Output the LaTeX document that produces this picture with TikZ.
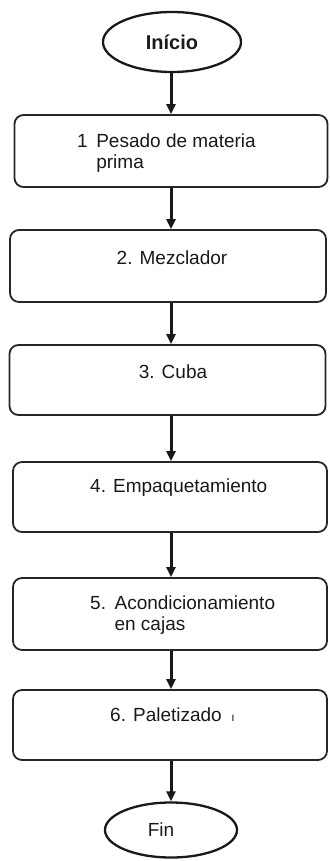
\documentclass[tikz,border=0pt]{standalone}
\usepackage{fontspec}
\setmainfont{Liberation Sans}
\usetikzlibrary{shapes.geometric,arrows.meta}
\begin{document}
\begin{tikzpicture}[x=1pt,y=-1pt,
  box/.style={draw=black!85, line width=1.8pt, rounded corners=9pt, inner sep=0pt},
  oval/.style={draw=black!90, ellipse, line width=2.3pt, inner sep=0pt},
  txt/.style={font=\fontsize{19}{21}\selectfont, inner sep=0pt, align=left, text=black!90},
  arr/.style={line width=3pt, black!90, -{Triangle[width=9pt,length=10pt]}}]
\useasboundingbox (0,0) rectangle (329,861);
\coordinate (axis) at (171,0);
\node[oval, minimum width=138pt, minimum height=60pt] (ini) at (172,42) {};
\node[txt, font=\fontsize{20}{22}\selectfont\bfseries] (tini) at (172,42) {Início};
\node[box, minimum width=313pt, minimum height=72pt] (b1) at (171,151) {};
\node[box, minimum width=316pt, minimum height=72pt] (b2) at (168,266) {};
\node[box, minimum width=316pt, minimum height=70pt] (b3) at (167.5,380) {};
\node[box, minimum width=314pt, minimum height=70pt] (b4) at (170,497) {};
\node[box, minimum width=314pt, minimum height=72pt] (b5) at (170,614) {};
\node[box, minimum width=314pt, minimum height=70pt] (b6) at (170,725) {};
\node[oval, minimum width=132pt, minimum height=55pt] (fin) at (171,830) {};
\node[txt] (tfin) at (161,830) {Fin};
\node[txt, anchor=west] (t1) at (77,153) {1\hspace{0.45em}Pesado de materia\\\phantom{1\hspace{0.45em}}prima};
\node[txt] (t2) at (172,258) {2. Mezclador};
\node[txt] (t3) at (173,372) {3. Cuba};
\node[txt, anchor=west] (t4) at (90,488) {4. Empaquetamiento};
\node[txt, anchor=west] (t5) at (90,615) {5.\hspace{0.45em}Acondicionamiento\\\phantom{5.\hspace{0.45em}}en cajas};
\node[txt, anchor=west] (t6) at (110,715) {6. Paletizado\hspace{0.5em}{\fontsize{12}{12}\selectfont ı}};
\draw[arr] (ini.south -| axis) -- (b1.north -| axis);
\draw[arr] (b1.south -| axis) -- (b2.north -| axis);
\draw[arr] (b2.south -| axis) -- (b3.north -| axis);
\draw[arr] (b3.south -| axis) -- (b4.north -| axis);
\draw[arr] (b4.south -| axis) -- (b5.north -| axis);
\draw[arr] (b5.south -| axis) -- (b6.north -| axis);
\draw[arr] (b6.south -| axis) -- (fin.north -| axis);
\end{tikzpicture}
\end{document}
